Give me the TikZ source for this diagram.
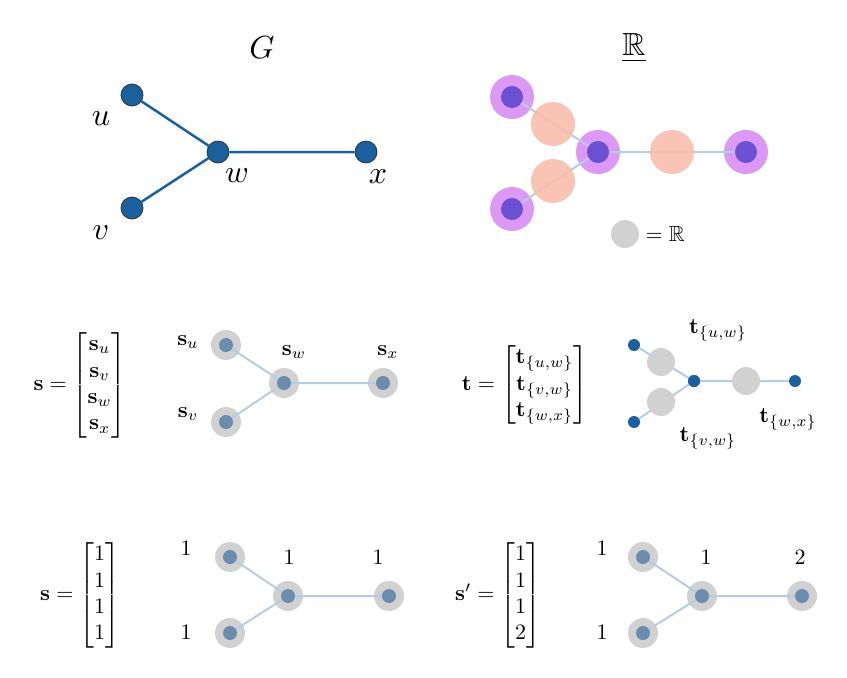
\documentclass[tikz,border=0pt]{standalone}
\usepackage{amsmath,amssymb}
\begin{document}
\begin{tikzpicture}[x=1pt,y=-1pt,
  bnode/.style={circle,fill={rgb,255:red,26;green,95;blue,158},draw=black!80,line width=0.8pt,minimum size=22pt,inner sep=0pt},
  bsmall/.style={circle,fill={rgb,255:red,26;green,95;blue,158},minimum size=12pt,inner sep=0pt},
  bedge/.style={line width=2.5pt,draw={rgb,255:red,26;green,95;blue,158}},
  ledge/.style={line width=2pt,draw={rgb,255:red,180;green,205;blue,228}},
  halo/.style={circle,fill={rgb,255:red,220;green,152;blue,245},minimum size=44pt,inner sep=0pt},
  pdot/.style={circle,fill={rgb,255:red,108;green,80;blue,210},minimum size=22pt,inner sep=0pt},
  pink/.style={circle,fill={rgb,255:red,248;green,190;blue,172},minimum size=44pt,inner sep=0pt},
  ghalo/.style={circle,fill=black!18,minimum size=30pt,inner sep=0pt},
  gdot/.style={circle,fill={rgb,255:red,108;green,140;blue,173},minimum size=14pt,inner sep=0pt},
  gbig/.style={circle,fill=black!18,minimum size=28pt,inner sep=0pt},
  lbl/.style={scale=2.2,inner sep=1pt},
  big/.style={scale=3.2,inner sep=1pt}]
\useasboundingbox (0,0) rectangle (847,678);
% top left
\node[big] (G) at (262,48) {$G$};
\node[bnode] (u) at (132,95) {};
\node[bnode] (v) at (132,208) {};
\node[bnode] (w) at (218,152) {};
\node[bnode] (x) at (366,152) {};
\draw[bedge] (u)--(w) (v)--(w) (w)--(x);
\node[big] (lu) at (101,119) {$u$};
\node[big] (lv) at (101,233) {$v$};
\node[big] (lw) at (237,176) {$w$};
\node[big] (lx) at (378,177) {$x$};
% top right
\node[big] (R) at (634,48) {$\underline{\mathbb{R}}$};
\node[halo] (ru) at (512,97) {};
\node[halo] (rv) at (512,209) {};
\node[halo] (rw) at (598,152) {};
\node[halo] (rx) at (746,152) {};
\draw[ledge] (ru.center)--(rw.center) (rv.center)--(rw.center) (rw.center)--(rx.center);
\node[pink,opacity=0.9] (p1) at (553,124) {};
\node[pink,opacity=0.9] (p2) at (553,181) {};
\node[pink,opacity=0.9] (p3) at (672,152) {};
\node[pdot] at (ru) {};\node[pdot] at (rv) {};\node[pdot] at (rw) {};\node[pdot] at (rx) {};
\node[gbig] (leg) at (625,234) {};
\node[lbl,anchor=west] (legt) at (643,234) {$=\mathbb{R}$};
% middle left
\node[lbl] (smat) at (80,385) {$\mathbf{s}=\begin{bmatrix}\mathbf{s}_u\\\mathbf{s}_v\\\mathbf{s}_w\\\mathbf{s}_x\end{bmatrix}$};
\node[ghalo] (su) at (226,345) {};
\node[ghalo] (sv) at (226,422) {};
\node[ghalo] (sw) at (284,383) {};
\node[ghalo] (sx) at (383,383) {};
\draw[ledge] (su.center)--(sw.center) (sv.center)--(sw.center) (sw.center)--(sx.center);
\foreach \n in {su,sv,sw,sx}{\node[gdot] at (\n) {};}
\node[lbl] at (188,342) {$\mathbf{s}_u$};
\node[lbl] at (188,414) {$\mathbf{s}_v$};
\node[lbl] at (294,352) {$\mathbf{s}_w$};
\node[lbl] at (388,352) {$\mathbf{s}_x$};
% middle right
\node[lbl] (tmat) at (525,385) {$\mathbf{t}=\begin{bmatrix}\mathbf{t}_{\{u,w\}}\\\mathbf{t}_{\{v,w\}}\\\mathbf{t}_{\{w,x\}}\end{bmatrix}$};
\node[bsmall] (tu) at (634,345) {};
\node[bsmall] (tv) at (634,422) {};
\node[bsmall] (tw) at (694,381) {};
\node[bsmall] (tx) at (795,381) {};
\draw[ledge] (tu)--(tw) (tv)--(tw) (tw)--(tx);
\node[gbig] at (661,362) {};
\node[gbig] at (661,402) {};
\node[gbig] at (746,381) {};
\node[bsmall] at (tw) {};
\node[lbl] at (718,330) {$\mathbf{t}_{\{u,w\}}$};
\node[lbl] at (708,438) {$\mathbf{t}_{\{v,w\}}$};
\node[lbl] at (788,419) {$\mathbf{t}_{\{w,x\}}$};
% bottom left
\node[lbl] (s1) at (80,595) {$\mathbf{s}=\begin{bmatrix}1\\1\\1\\1\end{bmatrix}$};
\node[ghalo] (au) at (230,557) {};
\node[ghalo] (av) at (230,633) {};
\node[ghalo] (aw) at (288,596) {};
\node[ghalo] (ax) at (389,596) {};
\draw[ledge] (au.center)--(aw.center) (av.center)--(aw.center) (aw.center)--(ax.center);
\foreach \n in {au,av,aw,ax}{\node[gdot] at (\n) {};}
\node[lbl] at (186,548) {$1$};
\node[lbl] at (186,632) {$1$};
\node[lbl] at (289,557) {$1$};
\node[lbl] at (378,557) {$1$};
% bottom right
\node[lbl] (s2) at (498,595) {$\mathbf{s}'=\begin{bmatrix}1\\1\\1\\2\end{bmatrix}$};
\node[ghalo] (bu) at (643,557) {};
\node[ghalo] (bv) at (643,633) {};
\node[ghalo] (bw) at (702,596) {};
\node[ghalo] (bx) at (802,596) {};
\draw[ledge] (bu.center)--(bw.center) (bv.center)--(bw.center) (bw.center)--(bx.center);
\foreach \n in {bu,bv,bw,bx}{\node[gdot] at (\n) {};}
\node[lbl] at (602,548) {$1$};
\node[lbl] at (602,632) {$1$};
\node[lbl] at (706,557) {$1$};
\node[lbl] at (800,557) {$2$};
\end{tikzpicture}
\end{document}
